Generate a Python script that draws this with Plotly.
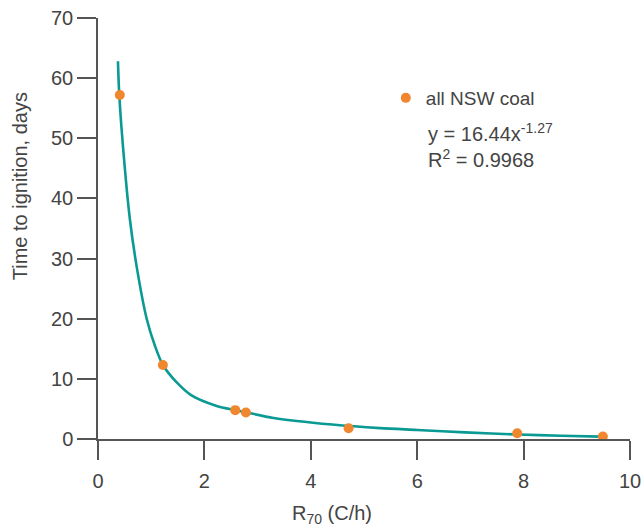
import plotly.graph_objects as go

# Observed data (R70 in C/h, time to ignition in days)
r70 = [0.41, 1.22, 2.58, 2.78, 4.71, 7.88, 9.49]
days = [57.2, 12.3, 4.8, 4.4, 1.8, 0.95, 0.4]

# Fitted trend curve as drawn in the reference
fit_x = [0.375, 0.40, 0.49, 0.60, 0.73, 0.915, 1.07, 1.22, 1.48, 1.75, 2.23,
         2.58, 2.8, 3.3, 4.4, 5.3, 6.0, 6.9, 7.9, 8.7, 9.45]
fit_y = [62.8, 57.2, 46.5, 36.5, 28.5, 20.0, 15.5, 12.3, 9.4, 7.3, 5.5,
         4.8, 4.4, 3.5, 2.4, 1.8, 1.5, 1.1, 0.75, 0.55, 0.4]

x_ticks = [0, 2, 4, 6, 8, 10]
y_ticks = [0, 10, 20, 30, 40, 50, 60, 70]

TEAL = "#0a9a93"
ORANGE = "#f0862e"
AXIS = "#555555"
TEXT = "#444444"
FONT = "Liberation Sans, Arial, sans-serif"

fig = go.Figure()
fig.add_trace(go.Scatter(x=fit_x, y=fit_y, mode="lines",
                         line=dict(color=TEAL, width=2.6, shape="spline", smoothing=0.8),
                         showlegend=False, hoverinfo="skip"))
fig.add_trace(go.Scatter(x=r70, y=days, mode="markers", name="all NSW coal",
                         marker=dict(color=ORANGE, size=10)))

fig.update_layout(
    template="none",
    width=643, height=528,
    margin=dict(l=98, r=13, t=18, b=89, autoexpand=False),
    paper_bgcolor="white", plot_bgcolor="white",
    font=dict(family=FONT, size=19, color=TEXT),
    legend=dict(x=0.541, y=0.81, xanchor="left", yanchor="middle",
                bgcolor="rgba(0,0,0,0)", borderwidth=0,
                font=dict(size=19, color=TEXT)),
    xaxis=dict(range=[0, 10], tickvals=x_ticks, showgrid=False, zeroline=False,
               automargin=False,
               showline=True, linecolor=AXIS, linewidth=1.5,
               ticks="outside", ticklen=19, tickwidth=1.5, tickcolor=AXIS,
               tickfont=dict(size=20, color=TEXT), ticklabelstandoff=4),
    yaxis=dict(range=[0, 70], tickvals=y_ticks, showgrid=False, zeroline=False,
               automargin=False,
               showline=True, linecolor=AXIS, linewidth=1.5,
               ticks="outside", ticklen=19, tickwidth=1.5, tickcolor=AXIS,
               tickfont=dict(size=20, color=TEXT), ticklabelstandoff=0),
    annotations=[
        dict(text="y = 16.44x<sup>-1.27</sup>",
             xref="paper", yref="paper", x=0.617, y=0.727, xanchor="left", yanchor="middle",
             align="left", showarrow=False, font=dict(size=20, color=TEXT)),
        dict(text="R<sup>2</sup> = 0.9968",
             xref="paper", yref="paper", x=0.617, y=0.667, xanchor="left", yanchor="middle",
             align="left", showarrow=False, font=dict(size=20, color=TEXT)),
        dict(text="Time to ignition, days", xref="paper", yref="paper",
             x=-0.145, y=0.6, textangle=-90, xanchor="center", yanchor="middle",
             showarrow=False, font=dict(size=20, color=TEXT)),
        dict(text="R<sub>70</sub> (C/h)", xref="paper", yref="paper",
             x=0.44, y=-0.18, xanchor="center", yanchor="middle",
             showarrow=False, font=dict(size=20, color=TEXT)),
    ],
)

fig.write_html("out.html")
